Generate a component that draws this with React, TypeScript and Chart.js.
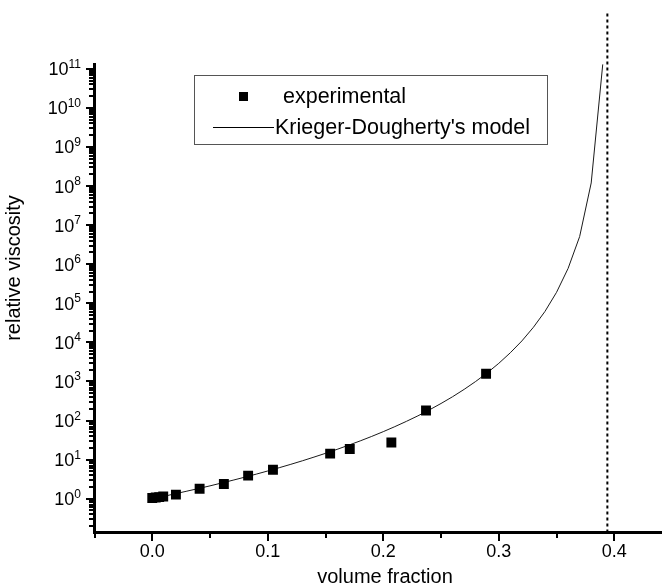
import React, { useEffect, useRef } from "react";
import { Chart, registerables } from "chart.js";

Chart.register(...registerables);

const FONT = '"Liberation Sans", Arial, sans-serif';

// experimental data (volume fraction, relative viscosity)
const expPhi = [0.0, 0.003, 0.006, 0.0095, 0.0205, 0.041, 0.062, 0.083, 0.1045, 0.154, 0.171, 0.207, 0.237, 0.289];
const expVisc = [1.04, 1.07, 1.1, 1.14, 1.27, 1.8, 2.38, 3.9, 5.5, 14.2, 18.7, 27.5, 181, 1574];

// Krieger-Dougherty model curve
const modelPhi = [
  0, 0.01, 0.02, 0.03, 0.04, 0.05, 0.06, 0.07, 0.08, 0.09,
  0.1, 0.11, 0.12, 0.13, 0.14, 0.15, 0.16, 0.17, 0.18, 0.19,
  0.2, 0.21, 0.22, 0.23, 0.24, 0.25, 0.26, 0.27, 0.28, 0.29,
  0.3, 0.31, 0.32, 0.33, 0.34, 0.35, 0.36, 0.37, 0.38, 0.39,
];
const modelVisc = [
  1, 1.15, 1.34, 1.56, 1.82, 2.13, 2.52, 2.98, 3.55, 4.25,
  5.12, 6.22, 7.59, 9.34, 11.6, 14.5, 18.3, 23.4, 30.1, 39.3,
  52, 69.8, 95.3, 132, 188, 273, 407, 627, 1000, 1660,
  2910, 5430, 10900, 24400, 62100, 191000, 780000, 5.1e6, 1.2e8, 1.3e11,
];

// maximum packing fraction (dashed line)
const phiMax = [0.394, 0.394];
const phiMaxVisc = [0.1365, 2.7e12];

const xMajorTicks = [0, 0.1, 0.2, 0.3, 0.4];
const xTickLabels = ["0.0", "0.1", "0.2", "0.3", "0.4"];
const xMinorTicks = [-0.05, 0.05, 0.15, 0.25, 0.35];
const yExponents = [0, 1, 2, 3, 4, 5, 6, 7, 8, 9, 10, 11];
const yMinorDecades = [-1, 0, 1, 2, 3, 4, 5, 6, 7, 8, 9, 10, 11];
const xTitle = "volume fraction";
const yTitle = "relative viscosity";
const legendLabels = ["experimental", "Krieger-Dougherty's model"];

const X_MIN = -0.05;
const X_MAX = 0.4413;
const Y_MIN = 0.1365;
const Y_MAX = 1.41e11;

const axesPlugin = {
  id: "originAxes",
  afterDraw(chart: any) {
    const ctx: CanvasRenderingContext2D = chart.ctx;
    const { left, right, top, bottom } = chart.chartArea;
    const xs = chart.scales.x;
    const ys = chart.scales.y;
    ctx.save();
    ctx.strokeStyle = "#000";
    ctx.fillStyle = "#000";

    // axis lines
    ctx.lineWidth = 3;
    ctx.lineCap = "butt";
    ctx.beginPath();
    ctx.moveTo(left, top);
    ctx.lineTo(left, bottom + 1.5);
    ctx.moveTo(left - 1.5, bottom);
    ctx.lineTo(right, bottom);
    ctx.stroke();

    // y ticks
    ctx.lineWidth = 2;
    const axL = left - 1.5;
    ctx.beginPath();
    for (const e of yMinorDecades) {
      for (let m = 2; m <= 9; m++) {
        const v = m * Math.pow(10, e);
        if (v < Y_MIN || v > Y_MAX) continue;
        const y = Math.round(ys.getPixelForValue(v));
        ctx.moveTo(axL - 4, y);
        ctx.lineTo(axL, y);
      }
    }
    for (const e of yExponents) {
      const y = Math.round(ys.getPixelForValue(Math.pow(10, e)));
      ctx.moveTo(axL - 7, y);
      ctx.lineTo(axL, y);
    }
    // x ticks
    const axB = bottom + 1.5;
    for (const v of xMinorTicks) {
      const x = Math.round(xs.getPixelForValue(v));
      ctx.moveTo(x, axB);
      ctx.lineTo(x, axB + 4);
    }
    for (const v of xMajorTicks) {
      const x = Math.round(xs.getPixelForValue(v));
      ctx.moveTo(x, axB);
      ctx.lineTo(x, axB + 7);
    }
    ctx.stroke();

    // y tick labels: 10^n
    const xr = 81;
    for (const e of yExponents) {
      const y = ys.getPixelForValue(Math.pow(10, e));
      const expStr = String(e);
      ctx.font = `12px ${FONT}`;
      const ew = ctx.measureText(expStr).width;
      ctx.textAlign = "left";
      ctx.textBaseline = "alphabetic";
      ctx.fillText(expStr, xr - ew, y - 1);
      ctx.font = `18px ${FONT}`;
      ctx.textAlign = "right";
      ctx.fillText("10", xr - ew, y + 6.5);
    }

    // x tick labels
    ctx.font = `18px ${FONT}`;
    ctx.textAlign = "center";
    ctx.textBaseline = "middle";
    xMajorTicks.forEach((v, i) => {
      ctx.fillText(xTickLabels[i], xs.getPixelForValue(v), 552);
    });

    // titles
    ctx.font = `20px ${FONT}`;
    ctx.fillText(xTitle, 385, 577);
    ctx.save();
    ctx.translate(14, 268);
    ctx.rotate(-Math.PI / 2);
    ctx.fillText(yTitle, 0, 0);
    ctx.restore();

    // legend
    ctx.lineWidth = 1;
    ctx.strokeStyle = "#555";
    ctx.strokeRect(194.5, 75.5, 353, 69);
    ctx.fillStyle = "#000";
    ctx.fillRect(239, 92, 9, 9);
    ctx.strokeStyle = "#000";
    ctx.beginPath();
    ctx.moveTo(213, 127.5);
    ctx.lineTo(274, 127.5);
    ctx.stroke();
    ctx.font = `21.5px ${FONT}`;
    ctx.textAlign = "left";
    ctx.textBaseline = "middle";
    ctx.fillText(legendLabels[0], 283, 97);
    ctx.fillText(legendLabels[1], 275, 128);

    ctx.restore();
  },
};

export default function App() {
  const ref = useRef<HTMLCanvasElement>(null);
  useEffect(() => {
    const canvas = ref.current;
    if (!canvas) return;
    const chart = new Chart(canvas, {
      type: "scatter",
      data: {
        datasets: [
          {
            label: legendLabels[0],
            data: expPhi.map((x, i) => ({ x, y: expVisc[i] })),
            showLine: false,
            pointStyle: "rect",
            pointRadius: 7,
            pointBackgroundColor: "#000",
            pointBorderWidth: 0,
            backgroundColor: "#000",
            borderColor: "#000",
          },
          {
            label: legendLabels[1],
            data: modelPhi.map((x, i) => ({ x, y: modelVisc[i] })),
            showLine: true,
            pointRadius: 0,
            borderColor: "#1a1a1a",
            borderWidth: 1,
            tension: 0,
          },
          {
            label: "max packing",
            data: phiMax.map((x, i) => ({ x, y: phiMaxVisc[i] })),
            showLine: true,
            pointRadius: 0,
            borderColor: "#000",
            borderWidth: 2,
            borderDash: [3, 3],
            clip: false as any,
          },
        ],
      },
      options: {
        responsive: false,
        animation: false,
        events: [],
        layout: { autoPadding: false, padding: { left: 94.5, right: 0, top: 63, bottom: 586 - 532.5 } },
        plugins: { legend: { display: false }, tooltip: { enabled: false } },
        scales: {
          x: { type: "linear", min: X_MIN, max: X_MAX, display: false },
          y: { type: "logarithmic", min: Y_MIN, max: Y_MAX, display: false },
        },
      },
      plugins: [axesPlugin],
    } as any);
    return () => chart.destroy();
  }, []);
  return (
    <div style={{ position: "fixed", left: 0, top: 0, width: 662, height: 586, background: "#fff", overflow: "hidden" }}>
      <canvas ref={ref} width={662} height={586} style={{ display: "block", width: 662, height: 586 }} />
    </div>
  );
}
